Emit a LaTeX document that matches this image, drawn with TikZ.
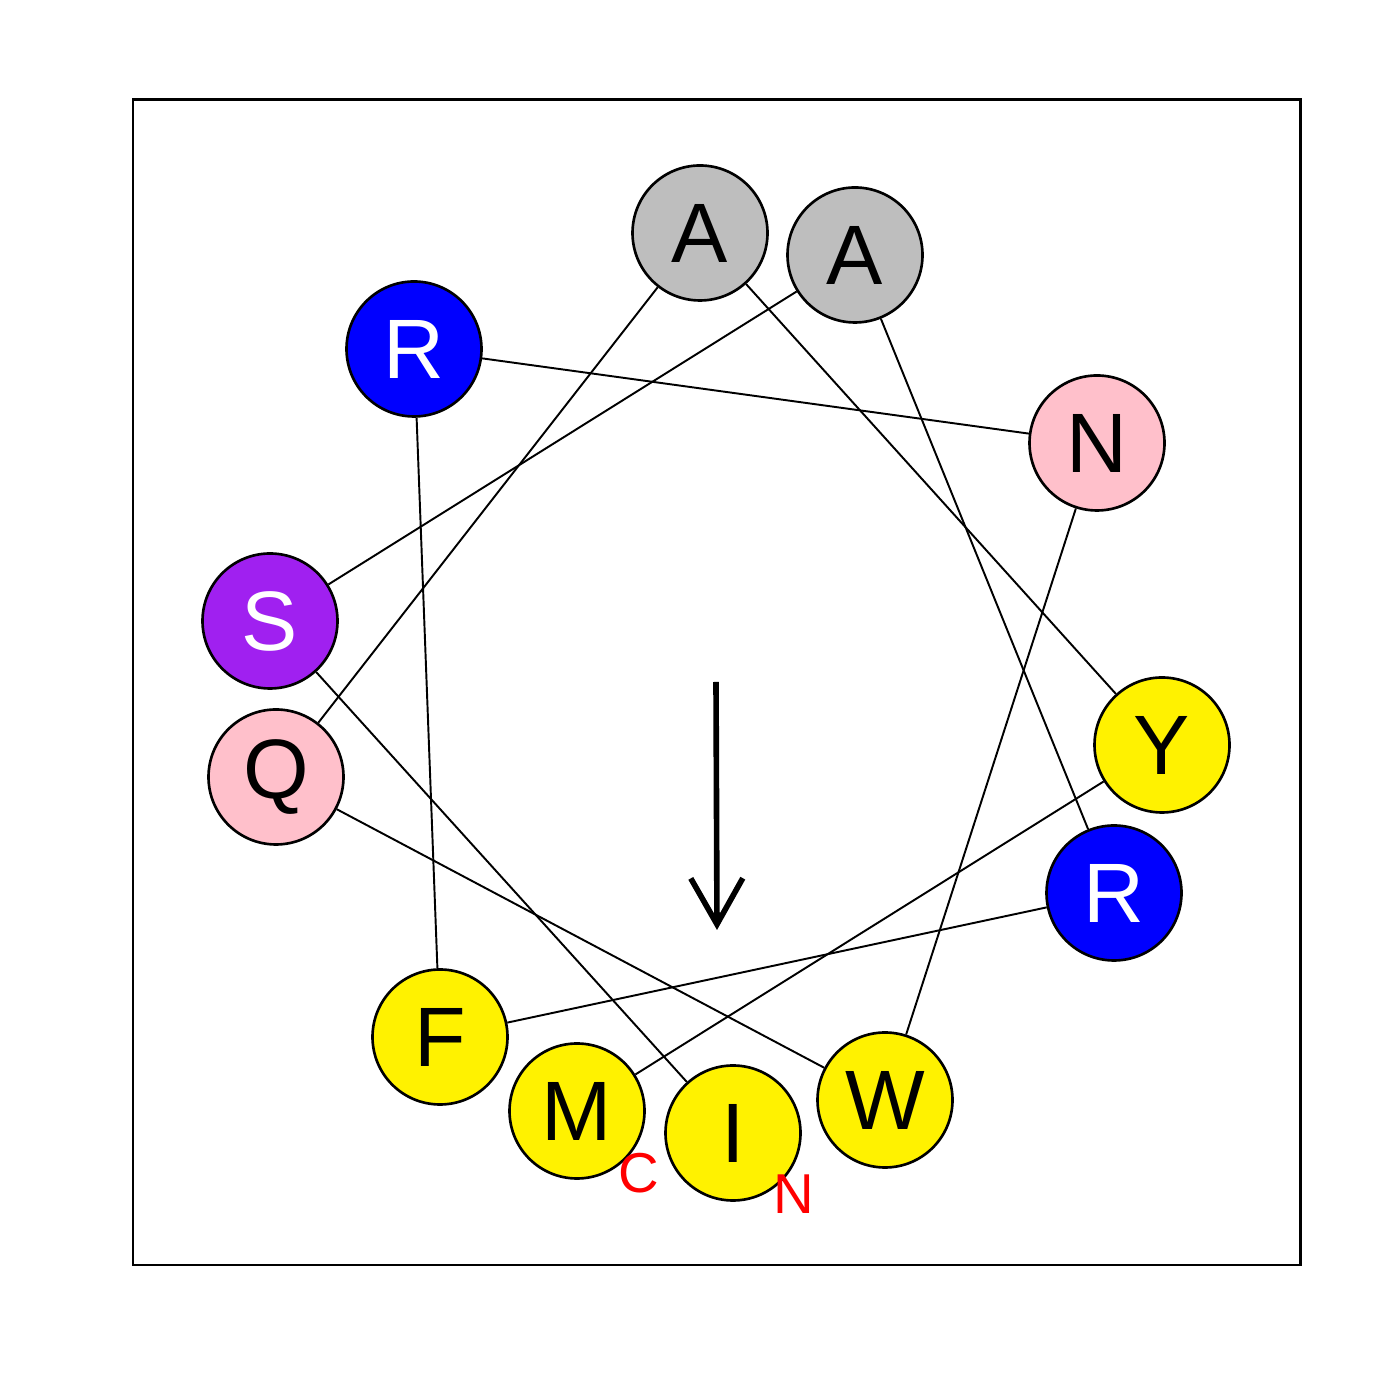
\documentclass[tikz,border=0pt]{standalone}
\usepackage{fontspec}
\setmainfont{Liberation Sans}
\usetikzlibrary{arrows.meta}
\definecolor{rgray}{RGB}{190,190,190}
\definecolor{rpink}{RGB}{255,192,203}
\definecolor{rpurple}{RGB}{160,32,240}

\begin{document}
\begin{tikzpicture}[
  res/.style={draw, circle, line width=0.75pt, minimum size=13.5mm, inner sep=0pt,
              font=\fontsize{24}{24}\selectfont},
  hyd/.style={res, fill=yellow},
  basic/.style={res, fill=blue, text=white},
  pol/.style={res, fill=rpink},
  sml/.style={res, fill=rgray},
  ser/.style={res, fill=rpurple, text=white},
  link/.style={line width=0.55pt},
  term/.style={text=red, font=\fontsize{16}{16}\selectfont}
]
\useasboundingbox (0,0) rectangle (14,14);
\draw[line width=0.85pt] (1.33,1.35) rectangle (13.00,13.00);

% residues, N to C
\node[hyd] (i1)  at (7.33,2.67)  {I};
\node[ser] (s2)  at (2.70,7.79)  {S};
\node[sml] (a3)  at (8.55,11.45) {A};
\node[basic] (r4)  at (11.14,5.07) {R};
\node[hyd] (f5)  at (4.40,3.63)  {F};
\node[basic] (r6)  at (4.14,10.51) {R};
\node[pol] (n7)  at (10.97,9.57) {N};
\node[hyd] (w8)  at (8.85,3.00)  {W};
\node[pol] (q9)  at (2.76,6.23)  {Q};
\node[sml] (a10) at (7.00,11.67) {A};
\node[hyd] (y11) at (11.62,6.55) {Y};
\node[hyd] (m12) at (5.77,2.89)  {M};

\draw[link] (i1)--(s2); \draw[link] (s2)--(a3); \draw[link] (a3)--(r4);
\draw[link] (r4)--(f5); \draw[link] (f5)--(r6); \draw[link] (r6)--(n7);
\draw[link] (n7)--(w8); \draw[link] (w8)--(q9); \draw[link] (q9)--(a10);
\draw[link] (a10)--(y11); \draw[link] (y11)--(m12);

\node[term] (cterm) at (6.39,2.27) {C};
\node[term] (nterm) at (7.94,2.06) {N};

% moment
\coordinate (mtail) at (7.16,7.18);
\coordinate (mhead) at (7.17,4.70);
\draw[line width=1.6pt, -{Straight Barb[length=4.6mm, width=5.2mm, line width=1.6pt]}] (mtail) -- (mhead);
\end{tikzpicture}
\end{document}
